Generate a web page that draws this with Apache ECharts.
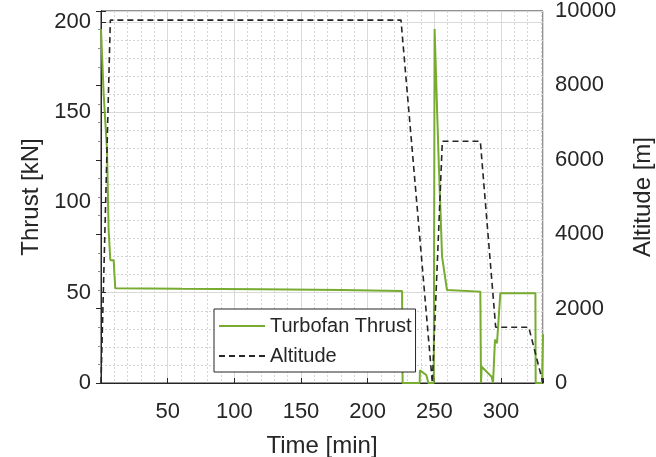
<!DOCTYPE html>
<html lang="en">
<head>
    <meta charset="UTF-8">
    <title>Turbofan Thrust</title>
    <script type="text/javascript" src="https://cdn.jsdelivr.net/npm/echarts@6/dist/echarts.min.js"></script>
    <style>
        html, body { margin: 0; padding: 0; background: #ffffff; }
        #chart { width: 656px; height: 457px; }
    </style>
</head>
<body>
<div id="chart"></div>
<script>
    // thrust curve (time in min, thrust in kN)
    var thrustTime  = [0, 2, 4.5, 5.7, 7, 9.5, 10.7, 60, 120, 180, 225.8, 226.2, 239, 239.2, 244, 245.5, 249.6, 250.2, 253, 255.8, 259.5, 284.5, 285, 285.5, 293, 294, 295.5, 297, 299.5, 325.8, 326, 330.8, 331.5];
    var thrustValue = [196, 160, 129, 85, 68, 68, 52.5, 52.2, 51.9, 51.5, 51, 0, 0, 7, 4.4, 0, 0, 196, 129, 70, 51.5, 50.6, 0, 9, 3.5, 0, 24, 22, 49.7, 49.7, 0, 0, 27];

    // altitude profile (time in min, altitude in m)
    var altTime  = [0, 0.6, 7, 225, 248.5, 250, 256, 284.5, 296, 320.8, 331.5];
    var altValue = [0, 0, 9754, 9754, 0, 0, 6500, 6500, 1500, 1500, 0];

    var xTicks = [50, 100, 150, 200, 250, 300];
    var thrustTicks = [0, 50, 100, 150, 200];

    var thrustData = [];
    for (var i = 0; i < thrustTime.length; i++) {
        thrustData.push([thrustTime[i], thrustValue[i]]);
    }
    var altData = [];
    for (var j = 0; j < altTime.length; j++) {
        altData.push([altTime[j], altValue[j]]);
    }

    var txt = '#262626';
    var font = 'Liberation Sans, Arial, sans-serif';
    var majorGrid = { show: true, lineStyle: { color: '#d9d9d9', width: 1, type: 'solid' } };
    var minorGrid = { show: true, lineStyle: { color: '#d4d4d4', width: 1, type: [2, 2] } };

    var myChart = echarts.init(document.getElementById('chart'));
    var option = {
        backgroundColor: '#ffffff',
        animation: false,
        grid: {
            left: 101, right: 113, top: 11, bottom: 74,
            outerBoundsMode: 'none', containLabel: false,
            show: true, borderColor: txt, borderWidth: 1, backgroundColor: 'transparent'
        },
        legend: {
            orient: 'vertical',
            left: 214, top: 309,
            padding: [7, 4, 6, 4],
            itemGap: 10,
            itemWidth: 46, itemHeight: 14,
            backgroundColor: '#ffffff',
            borderColor: txt, borderWidth: 1,
            itemStyle: { opacity: 0 },
            textStyle: { color: txt, fontSize: 20, fontFamily: font },
            data: ['Turbofan Thrust', 'Altitude']
        },
        xAxis: [{
            type: 'value', min: 0, max: 331.5, interval: 50, z: 2,
            name: 'Time [min]', nameLocation: 'middle', nameGap: 51,
            nameTextStyle: { color: txt, fontSize: 24, fontFamily: font },
            axisLine: { show: true, lineStyle: { color: txt } },
            axisTick: { show: true, inside: true, length: 5, lineStyle: { color: txt } },
            axisLabel: {
                color: txt, fontSize: 22, fontFamily: font, margin: 18,
                formatter: function (v) { return xTicks.indexOf(v) >= 0 ? String(v) : ''; }
            },
            splitLine: majorGrid
        }, {
            type: 'value', min: 0, max: 331.5, interval: 10, position: 'bottom', z: 1,
            axisLine: { show: false }, axisTick: { show: false }, axisLabel: { show: false },
            splitLine: minorGrid
        }],
        yAxis: [{
            type: 'value', position: 'left', min: 0, max: 206, interval: 50, z: 2,
            name: 'Thrust [kN]', nameLocation: 'middle', nameGap: 44, nameRotate: 90,
            nameTextStyle: { color: txt, fontSize: 24, fontFamily: font },
            axisLine: { show: true, lineStyle: { color: txt } },
            axisTick: { show: true, inside: true, length: 5, lineStyle: { color: txt } },
            axisLabel: {
                color: txt, fontSize: 22, fontFamily: font, margin: 10,
                formatter: function (v) { return thrustTicks.indexOf(v) >= 0 ? String(v) : ''; }
            },
            splitLine: majorGrid
        }, {
            type: 'value', position: 'right', min: 0, max: 10000, interval: 2000, z: 2,
            name: 'Altitude [m]', nameLocation: 'middle', nameGap: 88, nameRotate: 90,
            nameTextStyle: { color: txt, fontSize: 24, fontFamily: font },
            axisLine: { show: true, lineStyle: { color: txt } },
            axisTick: { show: true, inside: true, length: 5, lineStyle: { color: txt } },
            minorTick: { show: true, splitNumber: 4, length: 3, lineStyle: { color: '#8c8c8c' } },
            axisLabel: {
                color: txt, fontSize: 22, fontFamily: font, margin: 12,
                formatter: function (v) { return String(v); }
            },
            splitLine: { show: false }
        }, {
            type: 'value', position: 'left', min: 0, max: 206, interval: 10, z: 1,
            axisLine: { show: false }, axisTick: { show: false }, axisLabel: { show: false },
            splitLine: minorGrid
        }],
        series: [{
            name: 'Turbofan Thrust',
            type: 'line',
            xAxisIndex: 0, yAxisIndex: 0,
            symbol: 'none',
            lineStyle: { color: '#77ac30', width: 2 },
            itemStyle: { color: '#77ac30' },
            z: 3,
            data: thrustData
        }, {
            name: 'Altitude',
            type: 'line',
            xAxisIndex: 0, yAxisIndex: 1,
            symbol: 'none',
            lineStyle: { color: txt, width: 1.6, type: [6, 4] },
            itemStyle: { color: txt },
            z: 4,
            data: altData
        }]
    };
    myChart.setOption(option);
</script>
</body>
</html>
